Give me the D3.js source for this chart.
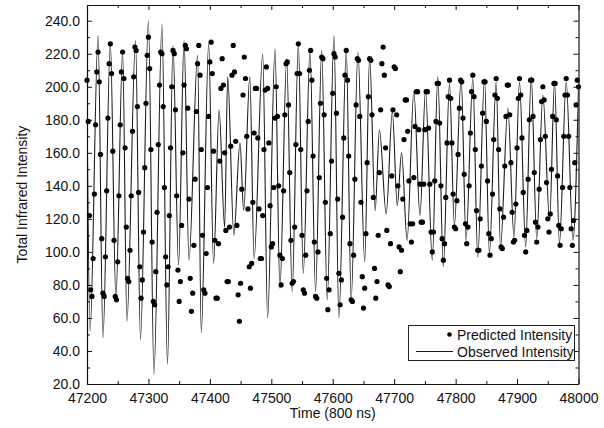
<!DOCTYPE html>
<html>
<head>
<meta charset="utf-8">
<script src="https://cdn.jsdelivr.net/npm/d3@7"></script>
<style>
  html, body { margin: 0; padding: 0; background: #fff; }
  svg { display: block; }
  text { font-family: "Liberation Sans", Arial, Helvetica, sans-serif; fill: #111; }
</style>
</head>
<body>
<svg id="chart" width="604" height="428"></svg>
<script>
// Observed intensity: turning points of the measured trace (time, value)
const obsTime = [
  47200, 47205, 47218, 47226, 47238, 47247, 47258, 47265, 47279, 47287,
  47300, 47309, 47322, 47331, 47340, 47349, 47358, 47366, 47380, 47386,
  47398, 47406, 47415, 47424, 47429, 47439, 47449, 47455, 47465, 47472,
  47486, 47494, 47506, 47514, 47525, 47534, 47544, 47552, 47563, 47572,
  47582, 47591, 47602, 47610, 47622, 47630, 47641, 47652, 47660, 47669,
  47676, 47687, 47697, 47705, 47712, 47721, 47732, 47742, 47751, 47762,
  47771, 47780, 47790, 47798, 47809, 47817, 47828, 47836, 47847, 47855,
  47866, 47873, 47885, 47895, 47904, 47914, 47923, 47932, 47942, 47953,
  47961, 47969, 47980, 47991, 48000
];
const obsValue = [
  190, 52, 231, 48, 227, 72, 221, 58, 228, 47,
  240, 26, 238, 32, 225, 92, 228, 95, 219, 51,
  226, 93, 186, 115, 206, 110, 166, 125, 206, 96,
  220, 60, 223, 78, 217, 76, 226, 87, 222, 76,
  222, 71, 231, 60, 222, 71, 221, 94, 218, 125,
  174, 123, 185, 128, 160, 107, 197, 122, 198, 95,
  206, 91, 202, 116, 205, 107, 205, 97, 205, 99,
  203, 103, 187, 109, 203, 103, 206, 108, 195, 119,
  203, 105, 203, 107, 200
];

// Predicted intensity: one sample every 2 time units from 47200
const predStart = 47200;
const predStep = 2;
const predValue = [
  204, 179, 122, 77, 73, 96, 135, 177, 209, 221,
  203, 159, 108, 75, 73, 97, 137, 181, 214, 226,
  208, 161, 107, 73, 71, 94, 134, 177, 209, 221,
  205, 163, 115, 84, 82, 101, 134, 173, 206, 224,
  222, 188, 136, 91, 72, 83, 112, 151, 190, 219,
  230, 211, 162, 106, 70, 68, 88, 124, 165, 201,
  221, 220, 188, 139, 97, 80, 91, 122, 163, 200,
  222, 220, 186, 134, 89, 70, 82, 116, 160, 201,
  225, 223, 187, 132, 84, 64, 75, 104, 144, 185,
  214, 225, 207, 162, 110, 77, 75, 99, 139, 182,
  215, 227, 208, 161, 107, 72, 72, 105, 155, 199,
  217, 201, 160, 113, 82, 82, 115, 164, 207, 225,
  209, 167, 116, 74, 58, 81, 138, 195, 218, 205,
  170, 126, 91, 78, 93, 130, 172, 199, 199, 169,
  126, 96, 96, 122, 162, 198, 212, 199, 166, 128,
  103, 105, 139, 181, 200, 182, 140, 98, 80, 96,
  137, 183, 214, 215, 189, 148, 107, 81, 82, 115,
  165, 208, 226, 208, 162, 110, 77, 75, 98, 137,
  179, 210, 222, 204, 158, 106, 73, 72, 100, 145,
  190, 218, 217, 183, 130, 84, 65, 77, 111, 155,
  196, 220, 218, 184, 132, 87, 68, 83, 121, 169,
  207, 222, 204, 158, 105, 71, 70, 98, 144, 189,
  217, 216, 182, 130, 85, 66, 78, 111, 154, 194,
  217, 216, 183, 133, 90, 72, 82, 110, 148, 186,
  214, 224, 207, 163, 113, 80, 79, 105, 146, 186,
  212, 211, 183, 140, 103, 88, 101, 132, 168, 192,
  192, 173, 143, 117, 106, 117, 145, 176, 197, 197,
  174, 141, 118, 118, 141, 174, 197, 197, 175, 141,
  112, 100, 112, 143, 179, 202, 202, 178, 140, 108,
  95, 105, 133, 166, 194, 204, 193, 166, 135, 115,
  114, 131, 159, 187, 204, 203, 181, 147, 117, 105,
  115, 140, 172, 197, 207, 194, 162, 125, 101, 101,
  120, 152, 184, 203, 203, 179, 143, 111, 98, 108,
  135, 168, 195, 205, 193, 162, 126, 103, 102, 121,
  152, 182, 201, 201, 183, 154, 124, 106, 107, 129,
  163, 193, 205, 195, 169, 136, 110, 100, 113, 144,
  180, 204, 204, 182, 148, 118, 106, 115, 138, 168,
  191, 200, 192, 170, 142, 120, 112, 123, 150, 182,
  202, 202, 180, 146, 116, 104, 114, 139, 170, 195,
  205, 195, 170, 139, 114, 104, 119, 154, 189, 204,
  200
];

const xMajorTicks = [47200, 47300, 47400, 47500, 47600, 47700, 47800, 47900, 48000];
const xMinorTicks = [47250, 47350, 47450, 47550, 47650, 47750, 47850, 47950];
const yMajorTicks = [20, 40, 60, 80, 100, 120, 140, 160, 180, 200, 220, 240];
const yMinorTicks = [30, 50, 70, 90, 110, 130, 150, 170, 190, 210, 230];

const legendLabels = ["Predicted Intensity", "Observed Intensity"];
const xTitle = "Time (800 ns)";
const yTitle = "Total Infrared Intensity";

const svg = d3.select("#chart");
const plot = { left: 87, right: 578.5, top: 5, bottom: 384 };

const x = d3.scaleLinear().domain([47200, 48000]).range([plot.left, plot.right]);
const y = d3.scaleLinear().domain([20, 249.5]).range([plot.bottom, plot.top]);

svg.append("defs").append("clipPath").attr("id", "plotClip")
  .append("rect")
  .attr("x", plot.left).attr("y", plot.top)
  .attr("width", plot.right - plot.left).attr("height", plot.bottom - plot.top);

// Observed trace
const observed = obsTime.map((t, i) => ({ t, v: obsValue[i] }));
const line = d3.line()
  .x(d => x(d.t))
  .y(d => y(d.v))
  .curve(d3.curveMonotoneX);

svg.append("path")
  .datum(observed)
  .attr("clip-path", "url(#plotClip)")
  .attr("fill", "none")
  .attr("stroke", "#1a1a1a")
  .attr("stroke-width", 1.1)
  .attr("d", line);

// Predicted samples
const predicted = predValue.map((v, i) => ({ t: predStart + i * predStep, v }));
svg.append("g")
  .selectAll("circle")
  .data(predicted)
  .join("circle")
  .attr("cx", d => x(d.t))
  .attr("cy", d => y(d.v))
  .attr("r", 2.6)
  .attr("fill", "#000");

// Axes with inward ticks on all four sides
function styleAxis(g) {
  g.select(".domain").attr("stroke", "#111").attr("stroke-width", 1.2);
  g.selectAll(".tick line").attr("stroke", "#111");
  g.selectAll("text").attr("font-size", 14).attr("fill", "#111")
    .attr("font-family", '"Liberation Sans", Arial, sans-serif');
}

const fmtX = d3.format("d");
const fmtY = d3.format(".1f");

svg.append("g")
  .attr("transform", `translate(0,${plot.bottom})`)
  .call(d3.axisBottom(x).tickValues(xMajorTicks).tickFormat(fmtX)
    .tickSizeInner(-5).tickSizeOuter(0).tickPadding(9))
  .call(styleAxis);
svg.append("g")
  .attr("transform", `translate(0,${plot.bottom})`)
  .call(d3.axisBottom(x).tickValues(xMinorTicks).tickFormat("")
    .tickSizeInner(-3).tickSizeOuter(0))
  .call(g => g.select(".domain").remove())
  .call(styleAxis);

svg.append("g")
  .attr("transform", `translate(0,${plot.top})`)
  .call(d3.axisTop(x).tickValues(xMajorTicks).tickFormat("")
    .tickSizeInner(-5).tickSizeOuter(0))
  .call(styleAxis);
svg.append("g")
  .attr("transform", `translate(0,${plot.top})`)
  .call(d3.axisTop(x).tickValues(xMinorTicks).tickFormat("")
    .tickSizeInner(-3).tickSizeOuter(0))
  .call(g => g.select(".domain").remove())
  .call(styleAxis);

svg.append("g")
  .attr("transform", `translate(${plot.left},0)`)
  .call(d3.axisLeft(y).tickValues(yMajorTicks).tickFormat(fmtY)
    .tickSizeInner(-5).tickSizeOuter(0).tickPadding(7))
  .call(styleAxis);
svg.append("g")
  .attr("transform", `translate(${plot.left},0)`)
  .call(d3.axisLeft(y).tickValues(yMinorTicks).tickFormat("")
    .tickSizeInner(-3).tickSizeOuter(0))
  .call(g => g.select(".domain").remove())
  .call(styleAxis);

svg.append("g")
  .attr("transform", `translate(${plot.right},0)`)
  .call(d3.axisRight(y).tickValues(yMajorTicks).tickFormat("")
    .tickSizeInner(-5).tickSizeOuter(0))
  .call(styleAxis);
svg.append("g")
  .attr("transform", `translate(${plot.right},0)`)
  .call(d3.axisRight(y).tickValues(yMinorTicks).tickFormat("")
    .tickSizeInner(-3).tickSizeOuter(0))
  .call(g => g.select(".domain").remove())
  .call(styleAxis);

// Axis titles
svg.append("text")
  .attr("x", (plot.left + plot.right) / 2)
  .attr("y", 418)
  .attr("text-anchor", "middle")
  .attr("font-size", 14)
  .text(xTitle);

svg.append("text")
  .attr("transform", `translate(27,${(plot.top + plot.bottom) / 2}) rotate(-90)`)
  .attr("text-anchor", "middle")
  .attr("font-size", 14)
  .text(yTitle);

// Legend
const legend = svg.append("g");
legend.append("rect")
  .attr("x", 408.5).attr("y", 325.5)
  .attr("width", 166).attr("height", 35)
  .attr("fill", "#fff")
  .attr("stroke", "#222")
  .attr("stroke-width", 1);
legend.append("circle")
  .attr("cx", 449.5).attr("cy", 334.5).attr("r", 2.3).attr("fill", "#000");
legend.append("line")
  .attr("x1", 416).attr("x2", 453)
  .attr("y1", 351.5).attr("y2", 351.5)
  .attr("stroke", "#1a1a1a").attr("stroke-width", 1);
legend.selectAll("text.lbl")
  .data(legendLabels)
  .join("text")
  .attr("class", "lbl")
  .attr("x", 457)
  .attr("y", (d, i) => 339.5 + i * 17)
  .attr("font-size", 14)
  .text(d => d);
</script>
</body>
</html>
